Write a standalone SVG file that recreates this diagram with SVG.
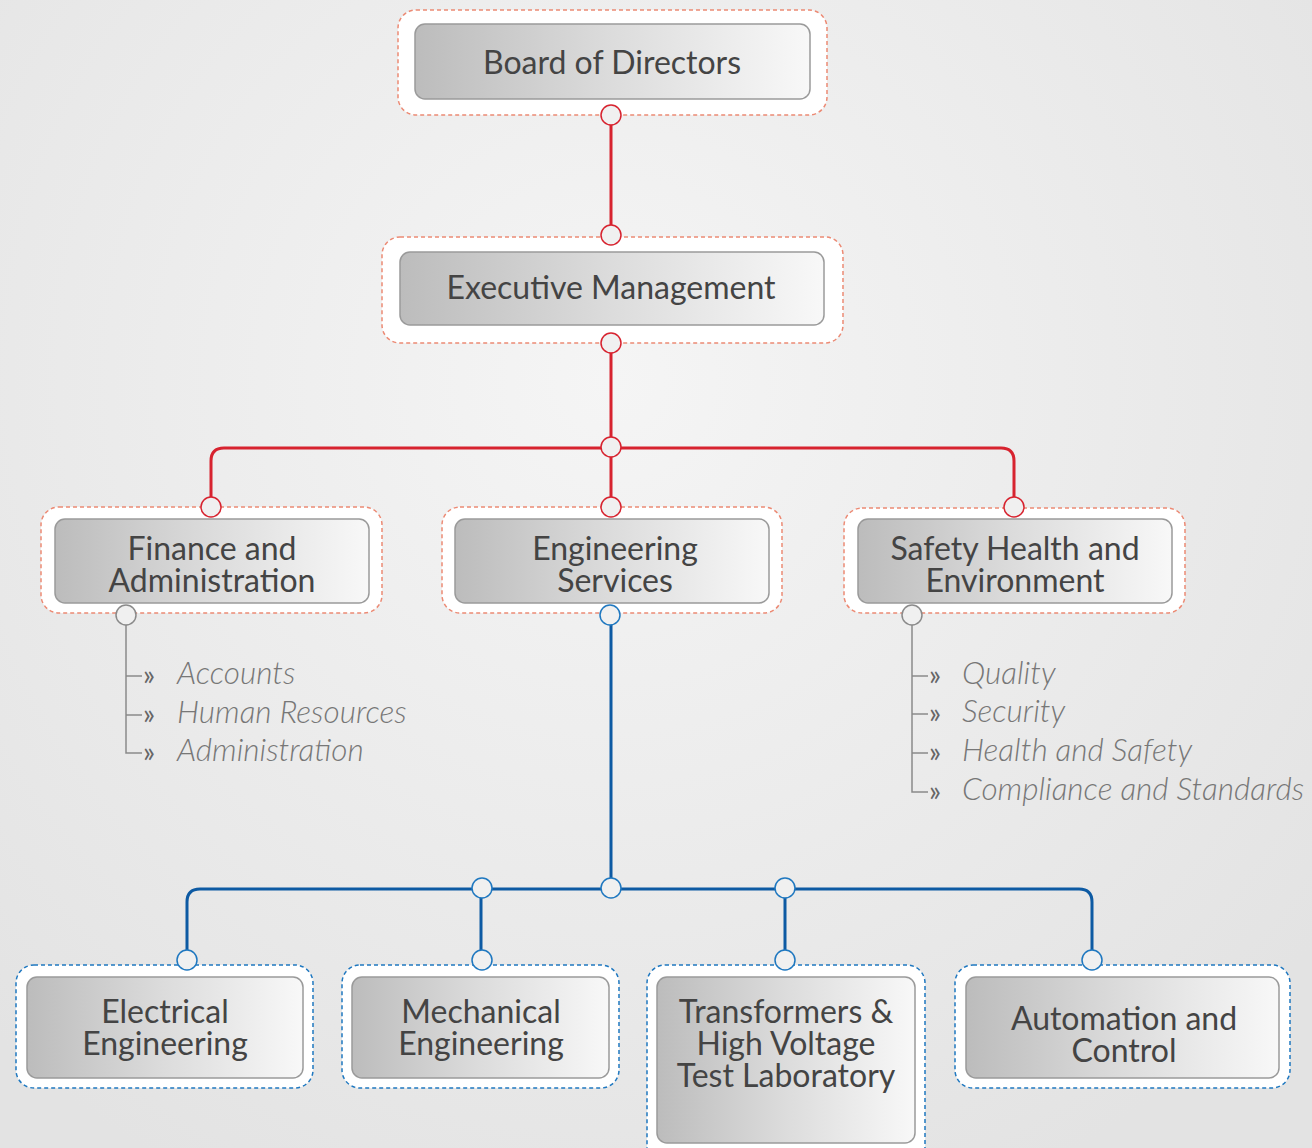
<svg xmlns="http://www.w3.org/2000/svg" width="1312" height="1148" viewBox="0 0 1312 1148">
<defs>
<radialGradient id="bg" cx="611" cy="380" r="900" gradientUnits="userSpaceOnUse">
<stop offset="0" stop-color="#f5f5f5"/>
<stop offset="1" stop-color="#e3e3e3"/>
</radialGradient>
<linearGradient id="box" x1="0" y1="0" x2="1" y2="0">
<stop offset="0" stop-color="#bcbcbc"/>
<stop offset="0.5" stop-color="#dcdcdc"/>
<stop offset="1" stop-color="#f8f8f8"/>
</linearGradient>
<style>
.outR{fill:#fff;stroke:#ec8a74;stroke-width:1.5;stroke-dasharray:4 3}
.outB{fill:#fff;stroke:#1f78c0;stroke-width:1.5;stroke-dasharray:4 3}
.in{fill:url(#box);stroke:#9a9a9a;stroke-width:1.5}
.t{font-family:Lato,"Liberation Sans",sans-serif;font-size:32px;fill:#444;text-anchor:middle}
.li{font-family:Lato,"Liberation Sans",sans-serif;font-size:31.5px;font-style:italic;font-weight:300;fill:#777}
.bu{font-family:Lato,"Liberation Sans",sans-serif;font-size:28px;fill:#666}
.red{fill:none;stroke:#d7232f;stroke-width:3}
.blue{fill:none;stroke:#0d5aa3;stroke-width:3}
.gl{fill:none;stroke:#8a8a8a;stroke-width:1.5}
.cR{fill:#f0f0f0;stroke:#d7232f;stroke-width:1.5}
.cB{fill:#f0f0f0;stroke:#1f78c0;stroke-width:1.5}
.cG{fill:#f0f0f0;stroke:#8a8a8a;stroke-width:1.5}
</style>
</defs>
<rect width="1312" height="1148" fill="url(#bg)"/>

<g id="n-board">
<rect class="outR" x="398" y="10" width="429" height="105" rx="18"/>
<rect class="in" x="415" y="24" width="395" height="75" rx="10"/>
<text class="t" x="612" y="74">Board of Directors</text>
</g>
<g id="n-exec">
<rect class="outR" x="382" y="237" width="461" height="106" rx="18"/>
<rect class="in" x="400" y="252" width="424" height="73" rx="10"/>
<text class="t" x="611" y="299">Executive Management</text>
</g>
<g id="n-finance">
<rect class="outR" x="41" y="507" width="341" height="106" rx="18"/>
<rect class="in" x="55" y="519" width="314" height="84" rx="10"/>
<text class="t" x="212" y="560">Finance and</text>
<text class="t" x="212" y="592">Administration</text>
</g>
<g id="n-eng">
<rect class="outR" x="442" y="507" width="340" height="106" rx="18"/>
<rect class="in" x="455" y="519" width="314" height="84" rx="10"/>
<text class="t" x="615" y="560">Engineering</text>
<text class="t" x="615" y="592">Services</text>
</g>
<g id="n-safety">
<rect class="outR" x="844" y="508" width="341" height="105" rx="18"/>
<rect class="in" x="858" y="519" width="314" height="84" rx="10"/>
<text class="t" x="1015" y="560">Safety Health and</text>
<text class="t" x="1015" y="592">Environment</text>
</g>
<g id="n-elec">
<rect class="outB" x="16" y="965" width="297" height="123" rx="18"/>
<rect class="in" x="27" y="977" width="276" height="101" rx="10"/>
<text class="t" x="165" y="1023">Electrical</text>
<text class="t" x="165" y="1055">Engineering</text>
</g>
<g id="n-mech">
<rect class="outB" x="342" y="965" width="277" height="123" rx="18"/>
<rect class="in" x="352" y="977" width="257" height="101" rx="10"/>
<text class="t" x="481" y="1023">Mechanical</text>
<text class="t" x="481" y="1055">Engineering</text>
</g>
<g id="n-trans">
<rect class="outB" x="647" y="965" width="278" height="200" rx="18"/>
<rect class="in" x="657" y="977" width="258" height="166" rx="10"/>
<text class="t" x="786" y="1023">Transformers &amp;</text>
<text class="t" x="786" y="1055">High Voltage</text>
<text class="t" x="786" y="1087">Test Laboratory</text>
</g>
<g id="n-auto">
<rect class="outB" x="955" y="965" width="335" height="123" rx="18"/>
<rect class="in" x="966" y="977" width="313" height="101" rx="10"/>
<text class="t" x="1124" y="1030">Automation and</text>
<text class="t" x="1124" y="1062">Control</text>
</g>

<g id="connectors">
<path class="red" d="M611 115 V235"/>
<path class="red" d="M611 343 V507"/>
<path class="red" d="M211 507 V461 Q211 448 224 448 H1001 Q1014 448 1014 461 V507"/>
<path class="blue" d="M611 615 V888"/>
<path class="blue" d="M187 960 V902 Q187 889 200 889 H1079 Q1092 889 1092 902 V960"/>
<path class="blue" d="M481 889 V960"/>
<path class="blue" d="M785 889 V960"/>
<path class="gl" d="M126 625 V753 H142 M126 676 H142 M126 715 H142"/>
<path class="gl" d="M912 625 V792 H928 M912 676 H928 M912 714 H928 M912 753 H928"/>
<circle class="cR" cx="611" cy="115" r="10"/>
<circle class="cR" cx="611" cy="235" r="10"/>
<circle class="cR" cx="611" cy="343" r="10"/>
<circle class="cR" cx="611" cy="447" r="10"/>
<circle class="cR" cx="211" cy="507" r="10"/>
<circle class="cR" cx="611" cy="507" r="10"/>
<circle class="cR" cx="1014" cy="507" r="10"/>
<circle class="cG" cx="126" cy="615" r="10"/>
<circle class="cB" cx="610" cy="615" r="10"/>
<circle class="cG" cx="912" cy="615" r="10"/>
<circle class="cB" cx="611" cy="888" r="10"/>
<circle class="cB" cx="482" cy="888" r="10"/>
<circle class="cB" cx="785" cy="888" r="10"/>
<circle class="cB" cx="187" cy="960" r="10"/>
<circle class="cB" cx="482" cy="960" r="10"/>
<circle class="cB" cx="785" cy="960" r="10"/>
<circle class="cB" cx="1092" cy="960" r="10"/>
</g>

<g id="list-finance">
<text class="bu" x="143" y="685">»</text>
<text class="bu" x="143" y="724">»</text>
<text class="bu" x="143" y="762">»</text>
<text class="li" x="177" y="684">Accounts</text>
<text class="li" x="177" y="723">Human Resources</text>
<text class="li" x="177" y="761">Administration</text>
</g>
<g id="list-safety">
<text class="bu" x="929" y="685">»</text>
<text class="bu" x="929" y="723">»</text>
<text class="bu" x="929" y="762">»</text>
<text class="bu" x="929" y="801">»</text>
<text class="li" x="962" y="684">Quality</text>
<text class="li" x="962" y="722">Security</text>
<text class="li" x="962" y="761">Health and Safety</text>
<text class="li" x="962" y="800">Compliance and Standards</text>
</g>
</svg>
